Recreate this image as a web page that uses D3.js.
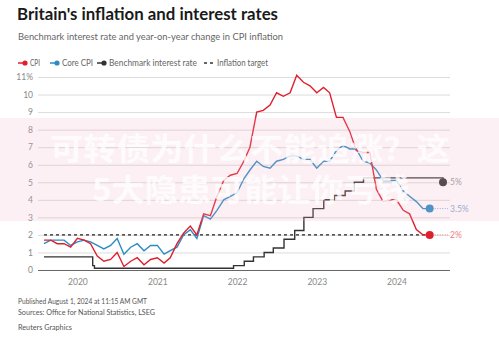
<!DOCTYPE html>
<html>
<head>
<meta charset="utf-8">
<script src="https://cdn.jsdelivr.net/npm/d3@7"></script>
<style>
  body { margin: 0; background: #fff; }
  svg { display: block; font-family: Lato, "Open Sans", sans-serif; }
</style>
</head>
<body>
<script>
// monthly series, starting Aug 2019
const firstMonth = "2019-08-01";
const cpi = [
  1.7, 1.7, 1.5, 1.5, 1.3,
  1.8, 1.7, 1.5, 0.8, 0.5, 0.6, 1.0, 0.2, 0.5, 0.7, 0.3, 0.6,
  0.7, 0.4, 0.7, 1.5, 2.1, 2.5, 2.0, 3.2, 3.1, 4.2, 5.1, 5.4,
  5.5, 6.2, 7.0, 9.0, 9.1, 9.4, 10.1, 9.9, 10.1, 11.1, 10.7, 10.5,
  10.1, 10.4, 10.1, 8.7, 8.7, 7.9, 6.8, 6.7, 6.7, 4.6, 3.9, 4.0,
  4.0, 3.4, 3.2, 2.3, 2.0, 2.0
];
const coreCpi = [
  1.5, 1.7, 1.7, 1.7, 1.4,
  1.6, 1.7, 1.6, 1.4, 1.2, 1.4, 1.8, 0.9, 1.3, 1.5, 1.1, 1.4,
  1.4, 0.9, 1.1, 1.3, 2.0, 2.3, 1.8, 3.1, 2.9, 3.4, 4.0, 4.2,
  4.4, 5.2, 5.7, 6.2, 5.9, 5.8, 6.2, 6.3, 6.5, 6.5, 6.3, 6.3,
  5.8, 6.2, 6.2, 6.8, 7.1, 6.9, 6.9, 6.2, 6.1, 5.7, 5.1, 5.1,
  5.1, 4.5, 4.2, 3.9, 3.5, 3.5
];
// Bank Rate decisions
const rateDates = [
  "2019-08-01", "2020-03-11", "2020-03-19", "2021-12-16", "2022-02-03",
  "2022-03-17", "2022-05-05", "2022-06-16", "2022-08-04", "2022-09-22",
  "2022-11-03", "2022-12-15", "2023-02-02", "2023-03-23", "2023-05-11",
  "2023-06-22", "2023-08-03", "2024-08-01"
];
const rateValues = [
  0.75, 0.25, 0.1, 0.25, 0.5, 0.75, 1.0, 1.25, 1.75, 2.25,
  3.0, 3.5, 4.0, 4.25, 4.5, 5.0, 5.25, 5.0
];
const inflationTarget = 2;
const yTicks = [0, 1, 2, 3, 4, 5, 6, 7, 8, 9, 10, 11];
const yearTicks = ["2020", "2021", "2022", "2023", "2024"];

const legendItems = [
  { label: "CPI", color: "#e01f2d", type: "dot", x: 18, w: 10 },
  { label: "Core CPI", color: "#2b8bc3", type: "dot", x: 50, w: 31 },
  { label: "Benchmark interest rate", color: "#333", type: "dot", x: 97, w: 88 },
  { label: "Inflation target", color: "#333", type: "dash", x: 204, w: 51 }
];

const width = 499, height = 340;
const red = "#e01f2d", blue = "#2b8bc3", dark = "#333";

const parse = d3.timeParse("%Y-%m-%d");
const start = parse(firstMonth);
const months = cpi.map((d, i) => d3.timeMonth.offset(start, i));
const cpiData = cpi.map((v, i) => ({ date: months[i], value: v }));
const coreData = coreCpi.map((v, i) => ({ date: months[i], value: v }));
const rateData = rateDates.map((d, i) => ({ date: parse(d), value: rateValues[i] }));

const x = d3.scaleTime()
  .domain([parse("2019-08-01"), parse("2024-08-01")])
  .range([44, 443]);
const y = d3.scaleLinear().domain([0, 11]).range([270, 77]);

const svg = d3.select("body").append("svg")
  .attr("width", width)
  .attr("height", height);

// header
svg.append("text")
  .attr("x", 17).attr("y", 20)
  .attr("font-size", 17).attr("font-weight", 700)
  .attr("fill", "#1a1a1a")
  .attr("textLength", 261).attr("lengthAdjust", "spacingAndGlyphs")
  .text("Britain's inflation and interest rates");

svg.append("text")
  .attr("x", 18).attr("y", 40)
  .attr("font-size", 10).attr("fill", "#666")
  .attr("textLength", 265).attr("lengthAdjust", "spacingAndGlyphs")
  .text("Benchmark interest rate and year-on-year change in CPI inflation");

// legend
const legend = svg.append("g").attr("transform", "translate(0,63)");
legendItems.forEach(it => {
  const g = legend.append("g").attr("transform", `translate(${it.x},0)`);
  if (it.type === "dot") {
    g.append("line").attr("x1", 0).attr("x2", 8)
      .attr("stroke", it.color).attr("stroke-width", 1.5);
    g.append("circle").attr("cx", 7).attr("r", 2.6).attr("fill", it.color);
  } else {
    g.append("line").attr("x1", 0).attr("x2", 9)
      .attr("stroke", it.color).attr("stroke-width", 1.3)
      .attr("stroke-dasharray", "3,3");
  }
  g.append("text").attr("x", it.type === "dot" ? 12 : 13).attr("y", 3.2)
    .attr("font-size", 9).attr("fill", "#666")
    .attr("textLength", it.w).attr("lengthAdjust", "spacingAndGlyphs")
    .text(it.label);
});

// y grid + labels
const yAxis = svg.append("g")
  .attr("transform", "translate(38,0)")
  .call(d3.axisLeft(y).tickValues(yTicks).tickSize(-412).tickPadding(5)
    .tickFormat(d => d === 11 ? "11%" : d));
yAxis.select(".domain").remove();
yAxis.selectAll(".tick line").attr("stroke", d => d === 0 ? "#666" : "#dcdcdc")
  .attr("stroke-width", d => d === 0 ? 1.2 : 1);
yAxis.selectAll(".tick text").attr("fill", "#888").attr("font-size", 8.5)
  .attr("font-family", "Lato, sans-serif");

// x labels
const xAxis = svg.append("g")
  .attr("transform", "translate(0,270)")
  .call(d3.axisBottom(x).tickValues(yearTicks.map(t => parse(t + "-01-01")))
    .tickSize(0).tickPadding(9).tickFormat(d3.timeFormat("%Y")));
xAxis.select(".domain").remove();
xAxis.selectAll(".tick text").attr("fill", "#888").attr("font-size", 8.5)
  .attr("font-family", "Lato, sans-serif");

// inflation target
svg.append("line")
  .attr("x1", x(months[0])).attr("x2", x(months[months.length - 1]))
  .attr("y1", y(inflationTarget)).attr("y2", y(inflationTarget))
  .attr("stroke", "#222").attr("stroke-width", 1.3)
  .attr("stroke-dasharray", "3,3");

const line = d3.line().x(d => x(d.date)).y(d => y(d.value));
const stepLine = d3.line().x(d => x(d.date)).y(d => y(d.value)).curve(d3.curveStepAfter);

svg.append("path").datum(rateData).attr("d", stepLine)
  .attr("fill", "none").attr("stroke", dark).attr("stroke-width", 1.4);
svg.append("path").datum(coreData).attr("d", line)
  .attr("fill", "none").attr("stroke", blue).attr("stroke-width", 1.4);
svg.append("path").datum(cpiData).attr("d", line)
  .attr("fill", "none").attr("stroke", red).attr("stroke-width", 1.4);

// end points with labels
const ends = [
  { d: rateData[rateData.length - 1], color: dark, label: "5%", lcolor: "#999", leader: false },
  { d: coreData[coreData.length - 1], color: blue, label: "3.5%", lcolor: "#7eaed4", leader: true },
  { d: cpiData[cpiData.length - 1], color: red, label: "2%", lcolor: "#f07a7a", leader: true }
];
ends.forEach(e => {
  const cx = x(e.d.date), cy = y(e.d.value);
  if (e.leader) {
    svg.append("line").attr("x1", cx).attr("x2", 448)
      .attr("y1", cy).attr("y2", cy)
      .attr("stroke", e.lcolor).attr("stroke-width", 1)
      .attr("stroke-dasharray", "1,1.5");
  }
  svg.append("circle").attr("cx", cx).attr("cy", cy).attr("r", 4).attr("fill", e.color);
  svg.append("text").attr("x", 450).attr("y", cy + 3)
    .attr("font-size", 8.5).attr("fill", e.lcolor).text(e.label);
});

// footer
const footer = [
  { t: "Published August 1, 2024 at 11:15 AM GMT", y: 304, w: 129 },
  { t: "Sources: Office for National Statistics, LSEG", y: 315, w: 137 },
  { t: "Reuters Graphics", y: 330, w: 54 }
];
footer.forEach(f => {
  svg.append("text").attr("x", 18).attr("y", f.y)
    .attr("font-size", 8).attr("fill", "#555")
    .attr("textLength", f.w).attr("lengthAdjust", "spacingAndGlyphs")
    .text(f.t);
});

// overlay banner
svg.append("rect").attr("x", 0).attr("y", 118).attr("width", width).attr("height", 103)
  .attr("fill", "rgb(240,180,205)").attr("opacity", 0.2);
const banner = svg.append("g")
  .attr("font-family", "'Noto Sans CJK SC', sans-serif")
  .attr("font-weight", 700).attr("font-size", 31)
  .attr("fill", "#fff").attr("fill-opacity", 0.8);
banner.append("text").attr("x", 50).attr("y", 160)
  .attr("textLength", 400).attr("lengthAdjust", "spacingAndGlyphs")
  .text("可转债为什么不能追涨？这");
banner.append("text").attr("x", 92).attr("y", 201)
  .attr("textLength", 318).attr("lengthAdjust", "spacingAndGlyphs")
  .text("5大隐患可能让你亏钱");
</script>
</body>
</html>
